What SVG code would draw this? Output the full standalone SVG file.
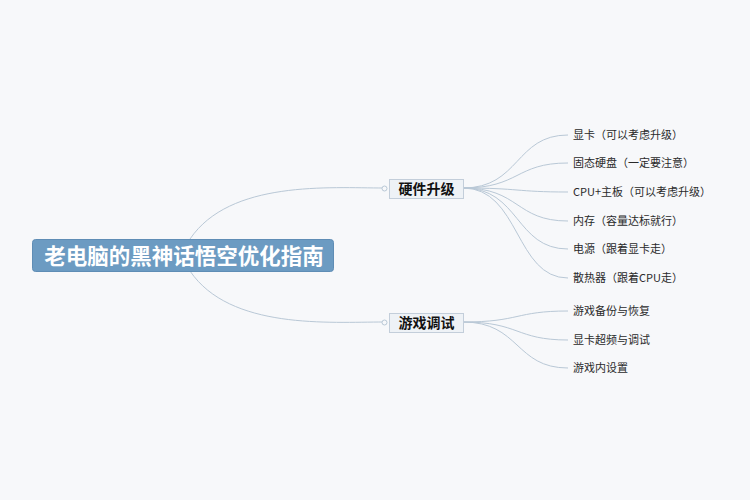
<svg xmlns="http://www.w3.org/2000/svg" width="750" height="500" viewBox="0 0 750 500">
<style>
.bg{fill:#f7f8fa}
.link{fill:none;stroke:#b9c8d6;stroke-width:1}
.root rect{fill:#6c9bc2;stroke:#5f8db5;stroke-width:1}
.root text{fill:#ffffff;font-family:"Noto Sans CJK SC","Noto Sans",sans-serif;font-weight:bold;font-size:21.5px}
.branch rect{fill:#eef2f6;stroke:#c3ceda;stroke-width:1}
.branch text{fill:#111111;font-family:"Noto Sans CJK SC","Noto Sans",sans-serif;font-weight:bold;font-size:14px}
.leaf text{fill:#2a2a2a;font-family:"Noto Sans CJK SC","Noto Sans",sans-serif;font-size:11px}
.knob{fill:#f7f8fa;stroke:#b9c8d6;stroke-width:1}
</style>
<rect class="bg" x="0" y="0" width="750" height="500"/>
<g id="connectors">
<path class="link" d="M190,239 C230,180 330,188 384,188"/>
<path class="link" d="M190,271 C230,330 330,322 384,322"/>
<circle class="knob" cx="384.5" cy="188.5" r="2.5"/>
<circle class="knob" cx="384.5" cy="322.5" r="2.5"/>
<path class="link" d="M463,188 C520,188 515,135 568,135"/>
<path class="link" d="M463,188 C520,188 515,163 568,163"/>
<path class="link" d="M463,188 C520,188 515,192 568,192"/>
<path class="link" d="M463,188 C520,188 515,221 568,221"/>
<path class="link" d="M463,188 C520,188 515,249 568,249"/>
<path class="link" d="M463,188 C520,188 515,278 568,278"/>
<path class="link" d="M463,322 C520,322 515,311 568,311"/>
<path class="link" d="M463,322 C520,322 515,340 568,340"/>
<path class="link" d="M463,322 C520,322 515,368 568,368"/>
</g>
<g id="root" class="root">
<rect x="32.5" y="239.5" width="301" height="32" rx="3"/>
<text x="184" y="263.5" text-anchor="middle">老电脑的黑神话悟空优化指南</text>
</g>
<g id="hardware" class="branch">
<rect x="389.5" y="179.5" width="74" height="19"/>
<text x="426.5" y="194" text-anchor="middle">硬件升级</text>
</g>
<g id="game" class="branch">
<rect x="389.5" y="313.5" width="74" height="19"/>
<text x="426.5" y="328" text-anchor="middle">游戏调试</text>
</g>
<g id="leaf-gpu" class="leaf"><text x="573" y="139">显卡（可以考虑升级）</text></g>
<g id="leaf-ssd" class="leaf"><text x="573" y="167">固态硬盘（一定要注意）</text></g>
<g id="leaf-cpu" class="leaf"><text x="573" y="196">CPU+主板（可以考虑升级）</text></g>
<g id="leaf-ram" class="leaf"><text x="573" y="225">内存（容量达标就行）</text></g>
<g id="leaf-psu" class="leaf"><text x="573" y="253">电源（跟着显卡走）</text></g>
<g id="leaf-cool" class="leaf"><text x="573" y="282">散热器（跟着CPU走）</text></g>
<g id="leaf-backup" class="leaf"><text x="573" y="315">游戏备份与恢复</text></g>
<g id="leaf-oc" class="leaf"><text x="573" y="344">显卡超频与调试</text></g>
<g id="leaf-settings" class="leaf"><text x="573" y="372">游戏内设置</text></g>
</svg>
